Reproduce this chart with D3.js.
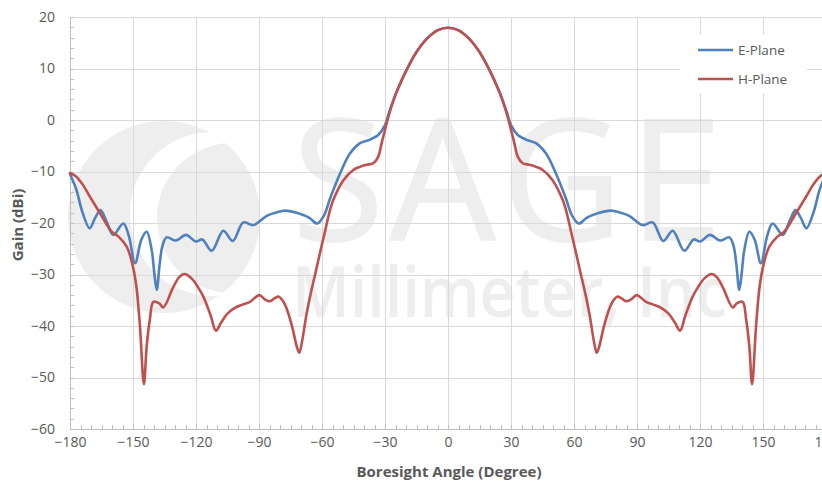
<!DOCTYPE html>
<html>
<head>
<meta charset="utf-8">
<script src="https://cdn.jsdelivr.net/npm/d3@7"></script>
<style>
  html, body { margin: 0; padding: 0; background: #fff; }
  svg { display: block; font-family: "Open Sans", "Liberation Sans", sans-serif; }
</style>
</head>
<body>
<svg id="chart" width="822" height="487"></svg>
<script>
// E-Plane (blue) readings, degree / dBi
const eAngle = [-180, -177, -174, -170.7, -168, -165.5, -162.5, -159.4, -154.6, -152, -149, -146, -143.5, -141, -139.8, -138.7, -137.3, -136, -134, -129.5, -124.8, -120, -117, -112.5, -107, -102.5, -97.5, -92.7, -86.3, -82, -77.6, -71.3, -66, -62.3, -59, -56.2, -51.4, -46.7, -41.9, -37.1, -33.2, -30, -28, -26, -24, -20, -15, -10, -5, 0,
  5, 10, 15, 20, 24, 26, 28, 30, 33.2, 37.1, 41.9, 46.7, 51.4, 56.2, 59, 62.3, 66, 71.3, 77.6, 82, 86.3, 92.7, 97.5, 102.5, 107, 112.5, 117, 120, 124.8, 129.5, 134, 136, 137.3, 138.7, 139.8, 141, 143.5, 146, 149, 152, 154.6, 159.4, 162.5, 165.5, 168, 170.7, 174, 177, 180];
const eGain = [-10.5, -13.5, -18, -21, -19, -17.5, -19.8, -22.3, -20.1, -22.5, -27.8, -23.2, -21.7, -25.5, -30, -33, -28, -24.5, -22.8, -23.4, -22.3, -23.6, -23.2, -25.4, -21.5, -23.5, -19.9, -20.4, -18.6, -18, -17.6, -18.1, -19, -20.1, -18.5, -15.3, -10.4, -6.5, -4.5, -3.8, -2.9, -1.0, 1.5, 3.8, 5.9, 9.5, 13.2, 15.8, 17.4, 17.9,
  17.4, 15.8, 13.2, 9.5, 5.9, 3.8, 1.5, -1.0, -2.9, -3.8, -4.5, -6.5, -10.4, -15.3, -18.5, -20.1, -19, -18.1, -17.6, -18, -18.6, -20.4, -19.9, -23.5, -21.5, -25.4, -23.2, -23.6, -22.3, -23.4, -22.8, -24.5, -28, -33, -30, -25.5, -21.7, -23.2, -27.8, -22.5, -20.1, -22.3, -19.8, -17.5, -19, -21, -18, -13.5, -10.5];

// H-Plane (red) readings
const hAngle = [-180, -177, -174, -170.5, -165.7, -160.1, -157, -153, -150.6, -148.5, -146.7, -144.8, -143.5, -142, -140.3, -137.5, -135.6, -131, -128, -125.5, -122, -119, -116.5, -113, -110.5, -108, -104.8, -101.5, -98.2, -94.3, -89.8, -87.3, -84.8, -82.5, -80.6, -78.5, -76.5, -74, -72, -70.8, -69.5, -67.5, -65.7, -63, -61, -58.5, -56.2, -54.6, -49.8, -45.1, -41.9, -38.7, -35.6, -33.2, -31.6, -30, -28.4, -26, -24, -20, -15, -10, -5, 0,
  5, 10, 15, 20, 24, 26, 28.4, 30, 31.6, 33.2, 35.6, 38.7, 41.9, 45.1, 49.8, 54.6, 56.2, 58.5, 61, 63, 65.7, 67.5, 69.5, 70.8, 72, 74, 76.5, 78.5, 80.6, 82.5, 84.8, 87.3, 89.8, 94.3, 98.2, 101.5, 104.8, 108, 110.5, 113, 116.5, 119, 122, 125.5, 128, 131, 135.6, 137.5, 140.3, 142, 143.5, 144.8, 146.7, 148.5, 150.6, 153, 157, 160.1, 165.7, 170.5, 174, 177, 180];
const hGain = [-10.3, -11, -12.5, -14.9, -18.1, -21.7, -22.6, -24.6, -27.5, -32, -40, -51.3, -44, -38.8, -35.3, -35.6, -36.4, -32.6, -30.5, -29.9, -30.8, -32.5, -34.3, -38, -40.9, -39.3, -37.5, -36.5, -35.9, -35.3, -34, -34.8, -35.2, -34.6, -34.3, -35.2, -37, -40.5, -44, -45.2, -43, -38, -34.3, -29.5, -25.9, -21.5, -17.5, -15.5, -11.7, -9.7, -9.1, -8.7, -8.4, -7.1, -4.5, -1.9, 0.6, 3.8, 5.9, 9.5, 13.2, 15.8, 17.4, 17.9,
  17.4, 15.8, 13.2, 9.5, 5.9, 3.8, 0.6, -1.9, -4.5, -7.1, -8.4, -8.7, -9.1, -9.7, -11.7, -15.5, -17.5, -21.5, -25.9, -29.5, -34.3, -38, -43, -45.2, -44, -40.5, -37, -35.2, -34.3, -34.6, -35.2, -34.8, -34, -35.3, -35.9, -36.5, -37.5, -39.3, -40.9, -38, -34.3, -32.5, -30.8, -29.9, -30.5, -32.6, -36.4, -35.6, -35.3, -38.8, -44, -51.3, -40, -32, -27.5, -24.6, -22.6, -21.7, -18.1, -14.9, -12.5, -11, -10.3];

const xTicks = [-180, -150, -120, -90, -60, -30, 0, 30, 60, 90, 120, 150, 180];
const yTicks = [-60, -50, -40, -30, -20, -10, 0, 10, 20];
const seriesNames = ['E-Plane', 'H-Plane'];

const svg = d3.select('#chart');

const margin = { top: 17, left: 70 };
const width = 756;
const height = 412;

const xScale = d3.scaleLinear().domain([-180, 180]).range([0, width]);
const yScale = d3.scaleLinear().domain([-60, 20]).range([height, 0]);

const chart = svg.append('g')
    .attr('transform', `translate(${margin.left}, ${margin.top})`);

/* watermark */
const wm = chart.append('g').attr('fill', '#eeeeee');
const clip = svg.append('defs').append('clipPath').attr('id', 'logo-clip');
clip.append('circle').attr('cx', 94).attr('cy', 200).attr('r', 96);
wm.append('circle').attr('cx', 94).attr('cy', 200).attr('r', 96);
wm.append('circle').attr('cx', 142).attr('cy', 197).attr('r', 82)
    .attr('fill', '#fff').attr('clip-path', 'url(#logo-clip)');
wm.append('circle').attr('cx', 162).attr('cy', 201).attr('r', 75)
    .attr('clip-path', 'url(#logo-clip)');
wm.append('text')
    .attr('x', 222).attr('y', 223)
    .attr('font-size', 168)
    .attr('font-weight', 400)
    .attr('stroke', '#eeeeee')
    .attr('stroke-width', 1.5)
    .attr('textLength', 430)
    .attr('lengthAdjust', 'spacing')
    .text('SAGE');
wm.append('text')
    .attr('x', 222).attr('y', 300)
    .attr('font-size', 70)
    .attr('font-weight', 600)
    .attr('textLength', 435)
    .attr('lengthAdjust', 'spacingAndGlyphs')
    .text('Millimeter, Inc');

/* grid */
chart.append('g')
    .attr('class', 'grid')
    .call(d3.axisLeft(yScale).tickValues(yTicks).tickSize(-width).tickFormat(''));
chart.append('g')
    .attr('class', 'grid')
    .attr('transform', `translate(0, ${height})`)
    .call(d3.axisBottom(xScale).tickValues(xTicks).tickSize(-height).tickFormat(''));
chart.selectAll('.grid .domain').remove();
chart.selectAll('.grid line').attr('stroke', '#d9d9d9').attr('shape-rendering', 'crispEdges');

/* minor ticks + axis lines */
chart.append('g')
    .attr('class', 'minor')
    .call(d3.axisLeft(yScale).tickValues(d3.range(-60, 21, 2)).tickSize(-4).tickFormat('').tickSizeOuter(0));
chart.append('g')
    .attr('class', 'minor')
    .attr('transform', `translate(0, ${height})`)
    .call(d3.axisBottom(xScale).tickValues(d3.range(-180, 181, 5)).tickSize(-4).tickFormat('').tickSizeOuter(0));
chart.selectAll('.minor line, .minor path')
    .attr('stroke', '#bfbfbf')
    .attr('shape-rendering', 'crispEdges');

/* tick labels */
const yAxis = chart.append('g')
    .call(d3.axisLeft(yScale).tickValues(yTicks).tickSize(0).tickPadding(15));
const xAxis = chart.append('g')
    .attr('transform', `translate(0, ${height})`)
    .call(d3.axisBottom(xScale).tickValues(xTicks).tickSize(0).tickPadding(8));
[yAxis, xAxis].forEach((a) => {
    a.select('.domain').remove();
    a.selectAll('text')
        .attr('font-family', '"Open Sans", sans-serif')
        .attr('font-size', 14)
        .attr('fill', '#595959');
});

/* axis titles */
svg.append('text')
    .attr('transform', 'translate(23, 225) rotate(-90)')
    .attr('text-anchor', 'middle')
    .attr('font-size', 15)
    .attr('font-weight', 'bold')
    .attr('fill', '#595959')
    .text('Gain (dBi)');
svg.append('text')
    .attr('x', 449).attr('y', 477)
    .attr('text-anchor', 'middle')
    .attr('font-size', 15)
    .attr('font-weight', 'bold')
    .attr('fill', '#595959')
    .text('Boresight Angle (Degree)');

/* curves */
const line = d3.line()
    .x((d) => xScale(d[0]))
    .y((d) => yScale(d[1]))
    .curve(d3.curveCatmullRom.alpha(0.5));

const colors = ['#4f81bd', '#c0504d'];
const series = [d3.zip(eAngle, eGain), d3.zip(hAngle, hGain)];

series.forEach((s, i) => {
    chart.append('path')
        .datum(s)
        .attr('fill', 'none')
        .attr('stroke', colors[i])
        .attr('stroke-width', 2.6)
        .attr('stroke-linejoin', 'round')
        .attr('stroke-linecap', 'round')
        .attr('d', line);
});

/* legend */
const legend = svg.append('g');
legend.append('rect')
    .attr('x', 680).attr('y', 35)
    .attr('width', 127).attr('height', 58)
    .attr('fill', '#fff');
seriesNames.forEach((name, i) => {
    legend.append('line')
        .attr('x1', 698).attr('x2', 733)
        .attr('y1', 50 + i * 29).attr('y2', 50 + i * 29)
        .attr('stroke', colors[i])
        .attr('stroke-width', 2.6);
    legend.append('text')
        .attr('x', 738).attr('y', 55 + i * 29)
        .attr('font-size', 13.5)
        .attr('fill', '#595959')
        .text(name);
});
</script>
</body>
</html>
